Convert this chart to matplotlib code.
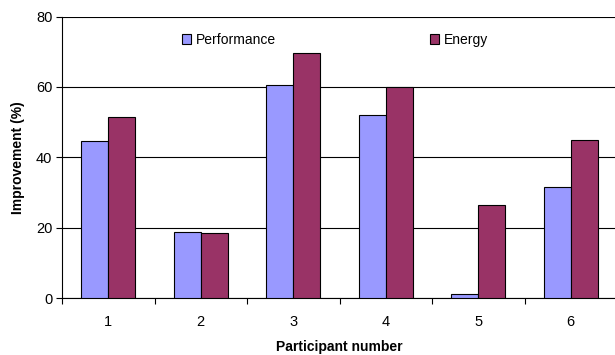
import matplotlib
matplotlib.use("Agg")
import matplotlib.pyplot as plt
import numpy as np

participants = ["1", "2", "3", "4", "5", "6"]
performance = [44.5, 18.8, 60.4, 52.0, 1.0, 31.5]
energy = [51.3, 18.5, 69.5, 60.0, 26.3, 45.0]

plt.rcParams["font.family"] = ["Liberation Sans", "DejaVu Sans"]
plt.rcParams["font.size"] = 10

fig = plt.figure(figsize=(6.15, 3.55), dpi=100)
ax = fig.add_axes([62 / 615, 57 / 355, 555 / 615, 281.5 / 355])

x = np.arange(len(participants))
w = 0.29
ax.bar(x - w / 2, performance, w, color="#9999FF", edgecolor="black", linewidth=0.8,
       label="Performance", zorder=3)
ax.bar(x + w / 2, energy, w, color="#993366", edgecolor="black", linewidth=0.8,
       label="Energy", zorder=3)

ax.set_xlim(-0.5, len(participants) - 0.5)
ax.set_ylim(0, 80)
ax.set_yticks([0, 20, 40, 60, 80])
ax.set_xticks(x)
ax.set_xticklabels(participants)
ax.set_xticks(np.arange(len(participants) + 1) - 0.5, minor=True)
ax.tick_params(axis="x", which="major", length=0, pad=12, labelsize=10.5)
ax.tick_params(axis="x", which="minor", length=4, direction="out", width=0.8)
ax.tick_params(axis="y", length=4, direction="out", width=0.8, pad=3, labelsize=10.5)
ax.yaxis.grid(True, color="black", linewidth=0.8, zorder=0)

for s in ["top", "right"]:
    ax.spines[s].set_visible(False)
ax.spines["left"].set_linewidth(0.8)
ax.spines["bottom"].set_linewidth(0.8)

ax.set_xlabel("Participant number", fontweight="bold", labelpad=8)
ax.set_ylabel("Improvement (%)", fontweight="bold", labelpad=8)

ax.legend(loc="center left", bbox_to_anchor=(182 / 615, 1 - 40 / 355),
          bbox_transform=fig.transFigure, ncol=2, frameon=False,
          handlelength=0.65, handleheight=0.65, handletextpad=0.35,
          columnspacing=11.1, borderpad=0, borderaxespad=0)

fig.savefig("out.png", dpi=100)
